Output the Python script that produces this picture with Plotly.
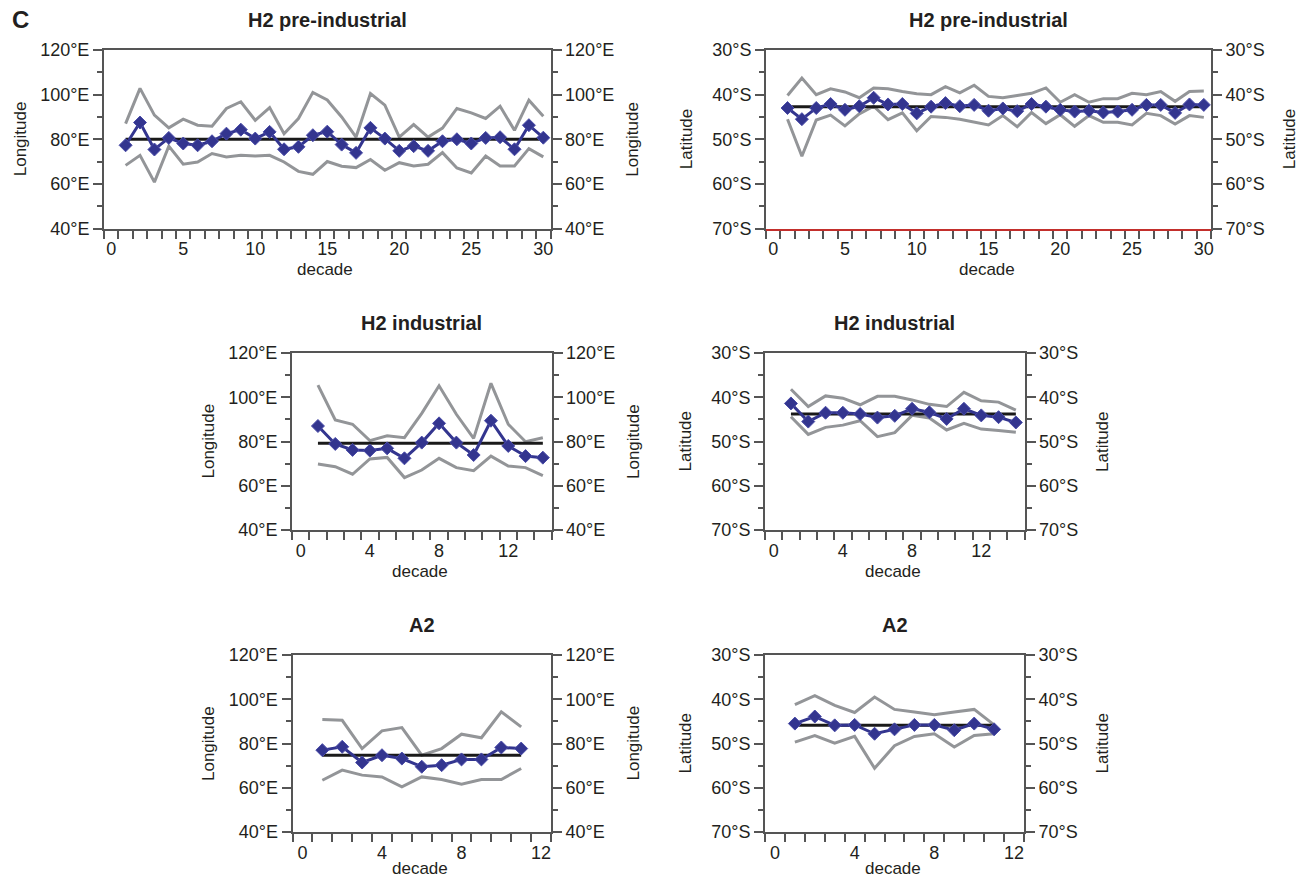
import plotly.graph_objects as go

# ---------------- data ----------------
decades_pre = list(range(1, 31))
decades_ind = list(range(1, 15))
decades_a2 = list(range(1, 12))

# H2 pre-industrial, longitude (deg E)
pre_lon = [77.3, 87.5, 75.4, 80.6, 78.1, 77.3, 79.1, 82.5, 84.3, 80.3,
           83.3, 75.5, 76.6, 81.8, 83.4, 77.6, 73.9, 85.1, 80.3, 74.8,
           76.9, 74.8, 79.1, 80.0, 78.1, 80.6, 80.9, 75.5, 86.3, 80.7]
pre_lon_hi = [87.0, 102.8, 90.8, 85.1, 89.0, 86.3, 85.8, 93.8, 96.8, 88.5,
              94.2, 82.5, 89.3, 101.0, 97.6, 90.0, 81.0, 100.5, 95.3, 81.0,
              86.6, 81.0, 85.0, 93.8, 91.8, 89.3, 94.8, 84.0, 97.5, 90.3]
pre_lon_lo = [68.3, 72.8, 60.8, 76.9, 68.8, 69.8, 73.6, 72.1, 72.8, 72.5,
              72.8, 69.8, 65.6, 64.3, 70.0, 67.9, 67.3, 70.9, 66.1, 69.5,
              68.0, 68.8, 74.0, 67.1, 64.9, 72.5, 68.0, 68.0, 75.8, 72.1]
pre_lon_mean = 80.0

# H2 pre-industrial, latitude (deg S)
pre_lat = [43.0, 45.5, 43.0, 42.1, 43.4, 42.6, 40.7, 42.2, 42.1, 44.2,
           42.7, 41.9, 42.6, 42.3, 43.6, 43.1, 43.7, 42.1, 42.7, 43.4,
           43.8, 43.6, 44.0, 43.8, 43.4, 42.3, 42.3, 44.1, 42.2, 42.3]
pre_lat_hi = [40.2, 36.3, 40.0, 38.7, 39.4, 40.7, 38.5, 38.7, 39.3, 39.8,
              40.0, 38.2, 39.6, 37.9, 40.4, 40.7, 40.2, 39.7, 38.5, 41.7,
              40.0, 41.7, 40.9, 40.9, 39.7, 40.0, 39.3, 41.5, 39.3, 39.2]
pre_lat_lo = [45.5, 53.8, 45.7, 44.6, 47.0, 44.3, 42.6, 45.6, 44.1, 48.1,
              44.9, 45.1, 45.5, 46.2, 46.8, 44.7, 47.2, 44.0, 46.5, 44.5,
              47.1, 44.7, 46.2, 46.2, 46.8, 44.2, 44.7, 46.6, 44.7, 45.1]
pre_lat_mean = 42.7

# H2 industrial, longitude
ind_lon = [87.0, 78.9, 76.2, 75.9, 76.9, 72.4, 79.5, 88.2, 79.5, 73.9, 89.4, 78.0, 73.4, 72.7]
ind_lon_hi = [105.5, 89.7, 87.8, 80.4, 82.6, 81.7, 92.7, 105.2, 92.3, 81.4, 106.3, 87.8, 79.9, 81.7]
ind_lon_lo = [69.8, 68.6, 65.2, 72.1, 72.8, 63.7, 67.1, 72.4, 68.2, 66.8, 73.4, 68.9, 68.2, 64.6]
ind_lon_mean = 79.2

# H2 industrial, latitude
ind_lat = [41.4, 45.5, 43.5, 43.5, 43.8, 44.6, 44.2, 42.6, 43.4, 44.9, 42.6, 44.1, 44.5, 45.7]
ind_lat_hi = [38.2, 42.1, 39.7, 40.2, 41.7, 39.8, 39.8, 40.6, 41.6, 42.1, 38.9, 40.8, 41.1, 42.9]
ind_lat_lo = [44.4, 48.4, 46.8, 46.3, 45.3, 48.9, 48.0, 44.1, 44.7, 47.4, 45.9, 47.2, 47.5, 47.9]
ind_lat_mean = 43.8

# A2, longitude
a2_lon = [77.0, 78.5, 71.4, 74.7, 73.2, 69.5, 70.2, 72.8, 72.8, 78.2, 77.7]
a2_lon_hi = [90.8, 90.5, 77.7, 85.7, 87.2, 74.7, 77.7, 84.2, 82.6, 94.3, 87.5]
a2_lon_lo = [63.4, 68.0, 65.7, 64.9, 60.4, 64.9, 63.7, 61.6, 63.7, 63.7, 68.7]
a2_lon_mean = 74.7

# A2, latitude
a2_lat = [45.5, 43.9, 45.9, 45.8, 47.8, 46.8, 45.8, 45.8, 47.0, 45.5, 46.8]
a2_lat_hi = [41.2, 39.2, 41.4, 43.0, 39.5, 42.3, 42.9, 43.5, 42.9, 42.3, 45.8]
a2_lat_lo = [49.7, 48.2, 49.9, 48.4, 55.6, 50.5, 48.4, 47.8, 50.8, 48.2, 47.8]
a2_lat_mean = 45.9

titles = ["H2 pre-industrial", "H2 industrial", "A2"]
lon_ticks = [40, 60, 80, 100, 120]
lon_labels = ["40°E", "60°E", "80°E", "100°E", "120°E"]
lat_ticks = [30, 40, 50, 60, 70]
lat_labels = ["30°S", "40°S", "50°S", "60°S", "70°S"]
x_labels_pre = [0, 5, 10, 15, 20, 25, 30]
x_labels_short = [0, 4, 8, 12]
x_end_pre, x_end_ind, x_end_a2 = 30, 14, 12

# ---------------- layout helpers ----------------
W, H = 1299, 879
FONT = "Liberation Sans, Arial, Helvetica, sans-serif"
TXT = "#231f20"
AXC = "#555555"
BLUE = "#33358f"
GRAY = "#939598"


def fx(p):
    return p / W


def fy(p):
    return 1 - p / H


panels = [
    # (decades, vals, hi, lo, mean, kind, xdom px, ydom px, xlabels, x end, title, decade-label gap)
    (decades_pre, pre_lon, pre_lon_hi, pre_lon_lo, pre_lon_mean, "lon", (104, 550.5), (50, 228.5), x_labels_pre, x_end_pre, titles[0], 41),
    (decades_pre, pre_lat, pre_lat_hi, pre_lat_lo, pre_lat_mean, "lat", (766, 1211), (50, 228.5), x_labels_pre, x_end_pre, titles[0], 41),
    (decades_ind, ind_lon, ind_lon_hi, ind_lon_lo, ind_lon_mean, "lon", (292, 551.5), (353, 530), x_labels_short, x_end_ind, titles[1], 41),
    (decades_ind, ind_lat, ind_lat_hi, ind_lat_lo, ind_lat_mean, "lat", (765, 1024.5), (353, 530), x_labels_short, x_end_ind, titles[1], 41),
    (decades_a2, a2_lon, a2_lon_hi, a2_lon_lo, a2_lon_mean, "lon", (292.5, 551), (655, 832), x_labels_short, x_end_a2, titles[2], 36),
    (decades_a2, a2_lat, a2_lat_hi, a2_lat_lo, a2_lat_mean, "lat", (765, 1024), (655, 832), x_labels_short, x_end_a2, titles[2], 36),
]

fig = go.Figure()
layout = dict(
    width=W, height=H, autosize=False,
    margin=dict(l=0, r=0, t=0, b=0, pad=0, autoexpand=False),
    paper_bgcolor="white", plot_bgcolor="white",
    showlegend=False,
    font=dict(family=FONT, color=TXT, size=18),
)
annotations = []
shapes = []

for i, (dec, vals, hi, lo, mean, kind, xd, yd, xlab, xend, title, dgap) in enumerate(panels):
    n = i + 1
    xid = "x" if n == 1 else f"x{n}"
    yl = 2 * i + 1
    yr = 2 * i + 2
    ylid = "y" if yl == 1 else f"y{yl}"
    yrid = f"y{yr}"
    xkey = "xaxis" if n == 1 else f"xaxis{n}"
    ylkey = "yaxis" if yl == 1 else f"yaxis{yl}"
    yrkey = f"yaxis{yr}"

    layout[xkey] = dict(
        domain=[fx(xd[0]), fx(xd[1])], anchor=ylid, automargin=False,
        range=[-0.5, xend + 0.5], tickvals=xlab, ticktext=[str(v) for v in xlab],
        ticks="outside", ticklen=3, tickcolor="rgba(0,0,0,0)",
        minor=dict(ticks="outside", ticklen=8, tick0=-0.5, dtick=1, tickcolor=AXC, tickwidth=1.5),
        showline=True, linecolor=AXC, linewidth=2, mirror=True,
        showgrid=False, zeroline=False,
        tickfont=dict(size=18, family=FONT, color=TXT),
    )
    if kind == "lon":
        yrange = [40, 120]
        tv, tt = lon_ticks, lon_labels
        minor_dt, minor_t0 = 10, 40
        ytitle = "Longitude"
    else:
        yrange = [70, 30]
        tv, tt = lat_ticks, lat_labels
        minor_dt, minor_t0 = 5, 30
        ytitle = "Latitude"
    ycommon = dict(
        range=yrange, tickvals=tv, ticktext=tt, automargin=False,
        ticks="outside", ticklen=9, tickcolor=AXC, tickwidth=1.5,
        minor=dict(ticks="outside", ticklen=5, tick0=minor_t0, dtick=minor_dt, tickcolor=AXC, tickwidth=1.5),
        showline=True, linecolor=AXC, linewidth=2,
        showgrid=False, zeroline=False,
        tickfont=dict(size=18, family=FONT, color=TXT),
    )
    layout[ylkey] = dict(domain=[fy(yd[1]), fy(yd[0])], anchor=xid, side="left", mirror=True, **ycommon)
    layout[yrkey] = dict(overlaying=ylid, anchor=xid, side="right", **ycommon)

    # traces
    fig.add_trace(go.Scatter(x=dec, y=hi, mode="lines", line=dict(color=GRAY, width=3),
                             xaxis=xid, yaxis=ylid, hoverinfo="skip"))
    fig.add_trace(go.Scatter(x=dec, y=lo, mode="lines", line=dict(color=GRAY, width=3),
                             xaxis=xid, yaxis=ylid, hoverinfo="skip"))
    fig.add_trace(go.Scatter(x=dec, y=[mean] * len(dec), mode="lines", line=dict(color="#1a1a1a", width=3),
                             xaxis=xid, yaxis=ylid, hoverinfo="skip"))
    fig.add_trace(go.Scatter(x=dec, y=vals, mode="lines+markers",
                             line=dict(color=BLUE, width=3),
                             marker=dict(symbol="diamond", size=10, color=BLUE,
                                         line=dict(color="#4a4ca8", width=1)),
                             xaxis=xid, yaxis=ylid))
    # invisible trace to carry the right-hand axis
    fig.add_trace(go.Scatter(x=dec, y=vals, mode="lines", opacity=0, line=dict(width=0),
                             xaxis=xid, yaxis=yrid, hoverinfo="skip"))

    xc = (xd[0] + xd[1]) / 2
    # panel title
    annotations.append(dict(text=f"<b>{title}</b>", x=fx(xc), y=fy(yd[0] - 30), xref="paper", yref="paper",
                            showarrow=False, xanchor="center", yanchor="middle",
                            font=dict(size=20, family=FONT, color=TXT)))
    # decade label
    annotations.append(dict(text="decade", x=fx(xc - 2), y=fy(yd[1] + dgap), xref="paper", yref="paper",
                            showarrow=False, xanchor="center", yanchor="middle",
                            font=dict(size=17, family=FONT, color=TXT)))
    # side titles
    ym = (yd[0] + yd[1]) / 2
    off_l = 84 if kind == "lon" else 80
    off_r = 82 if kind == "lon" else 78
    annotations.append(dict(text=ytitle, x=fx(xd[0] - off_l), y=fy(ym), xref="paper", yref="paper",
                            showarrow=False, textangle=-90, xanchor="center", yanchor="middle",
                            font=dict(size=17, family=FONT, color=TXT)))
    annotations.append(dict(text=ytitle, x=fx(xd[1] + off_r), y=fy(ym), xref="paper", yref="paper",
                            showarrow=False, textangle=-90, xanchor="center", yanchor="middle",
                            font=dict(size=17, family=FONT, color=TXT)))

# panel letter
annotations.append(dict(text="<b>C</b>", x=fx(20), y=fy(20), xref="paper", yref="paper",
                        showarrow=False, xanchor="center", yanchor="middle",
                        font=dict(size=24, family=FONT, color=TXT)))

# thin red rule under the top-right panel
shapes.append(dict(type="line", xref="paper", yref="paper",
                   x0=fx(766), x1=fx(1211), y0=fy(230), y1=fy(230),
                   line=dict(color="#e8231f", width=1.5)))

layout["annotations"] = annotations
layout["shapes"] = shapes
fig.update_layout(**layout)
fig.write_html(
    "out.html",
    config={"displayModeBar": False, "responsive": False},
    post_script="document.body.style.margin='0';document.body.style.overflow='hidden';",
)
